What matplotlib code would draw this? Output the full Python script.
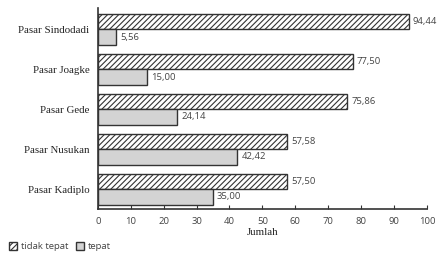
import matplotlib

matplotlib.use("Agg")
import matplotlib.pyplot as plt
import numpy as np
from matplotlib.patches import Patch

markets = ["Pasar Sindodadi", "Pasar Joagke", "Pasar Gede", "Pasar Nusukan", "Pasar Kadiplo"]
tidak_tepat = [94.44, 77.50, 75.86, 57.58, 57.50]
tepat = [5.56, 15.00, 24.14, 42.42, 35.00]
xticks = [0, 10, 20, 30, 40, 50, 60, 70, 80, 90, 100]

INK = "#333333"
GREY = "#d3d3d3"
TEXT = "#444444"

plt.rcParams["hatch.linewidth"] = 0.8
plt.rcParams["hatch.color"] = "#555555"

fig = plt.figure(figsize=(4.41, 2.61), dpi=100, facecolor="white")
ax = fig.add_axes([0.222, 0.199, 0.746, 0.770])

y = np.arange(len(markets))
h = 0.39
b1 = ax.barh(y - h / 2, tidak_tepat, height=h, color="white", edgecolor=INK,
             hatch="//////", linewidth=1.0)
b2 = ax.barh(y + h / 2, tepat, height=h, color=GREY, edgecolor=INK, linewidth=1.0)

for bars, vals in ((b1, tidak_tepat), (b2, tepat)):
    for rect, v in zip(bars, vals):
        ax.text(v + 1.2, rect.get_y() + rect.get_height() / 2,
                f"{v:.2f}".replace(".", ","), va="center", ha="left",
                fontsize=6.8, color=TEXT, family="Open Sans")

ax.set_xlim(0, 100)
ax.set_ylim(len(markets) - 0.5, -0.53)
ax.set_xticks(xticks)
ax.set_xticklabels([str(t) for t in xticks], fontsize=6.8, color=TEXT, family="Open Sans")
ax.set_yticks(y)
ax.set_yticklabels(markets, fontsize=7.8, color="#222222", family="Liberation Serif")
ax.tick_params(axis="y", length=0, pad=6)
ax.tick_params(axis="x", length=3, direction="in", color=INK, pad=6)
ax.set_xlabel("Jumlah", fontsize=7.8, family="Liberation Serif", color="#222222", labelpad=1)
for s in ("top", "right"):
    ax.spines[s].set_visible(False)
for s in ("left", "bottom"):
    ax.spines[s].set_color(INK)
    ax.spines[s].set_linewidth(1.2)

handles = [
    Patch(facecolor="white", edgecolor=INK, hatch="//////", label="tidak tepat"),
    Patch(facecolor=GREY, edgecolor=INK, label="tepat"),
]
fig.legend(handles=handles, loc="lower left", bbox_to_anchor=(0.0, 0.005), ncol=2,
           frameon=False, prop={"family": "Open Sans", "size": 6.8},
           handlelength=0.9, handleheight=0.9, handletextpad=0.4, columnspacing=0.8,
           labelcolor=TEXT)

fig.savefig("out.png", dpi=100, facecolor="white")
